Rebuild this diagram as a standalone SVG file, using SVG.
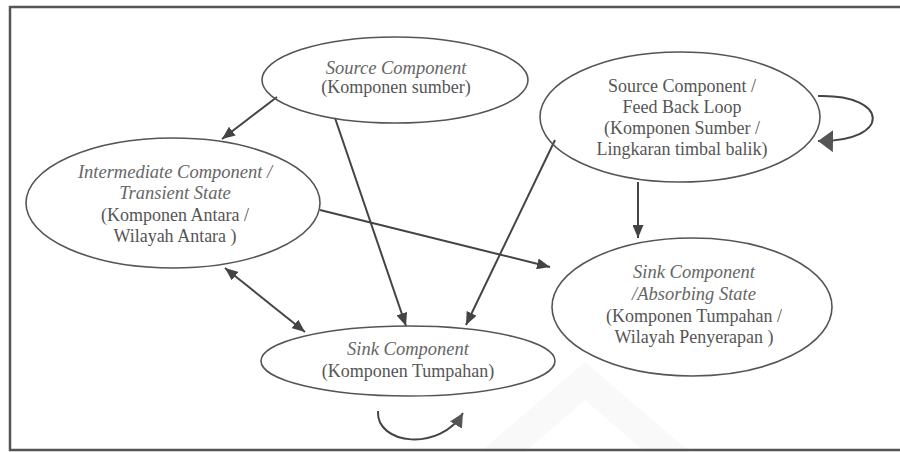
<svg xmlns="http://www.w3.org/2000/svg" width="900" height="452" viewBox="0 0 900 452">
<defs>
<style>
.node ellipse{fill:none;stroke:#555;stroke-width:1.6}
.lbl{font-size:18px;fill:#555;text-anchor:middle}
.it{font-style:italic;font-size:18.5px;fill:#666}
.edge{fill:none;stroke:#444;stroke-width:2}
</style>
<marker id="ah" viewBox="0 0 13 11" refX="13" refY="5.5" markerWidth="13" markerHeight="11" orient="auto-start-reverse" markerUnits="userSpaceOnUse"><path d="M0,0 L13,5.5 L0,11 z" fill="#444"/></marker>
<marker id="ahb" viewBox="0 0 15 22" refX="15" refY="11" markerWidth="15" markerHeight="22" orient="auto" markerUnits="userSpaceOnUse"><path d="M0,0 L15,11 L0,22 z" fill="#555"/></marker>
<marker id="ahm" viewBox="0 0 14 14" refX="14" refY="7" markerWidth="14" markerHeight="14" orient="auto" markerUnits="userSpaceOnUse"><path d="M0,0 L14,7 L0,14 z" fill="#555"/></marker>
</defs>
<rect width="900" height="452" fill="#fff"/>
<polygon points="480,452 585,362 690,452" fill="#f9f9f9"/>
<polygon points="525,452 585,400 645,452" fill="#fff"/>
<path d="M900,7 H10 V450 H900" fill="none" stroke="#555" stroke-width="2.5"/>
<g id="connectors">
<path class="edge" d="M277,97 L222,139" marker-end="url(#ah)"/>
<path class="edge" d="M335,118 L406,326" marker-end="url(#ah)"/>
<path class="edge" d="M555,140 L466,325" marker-end="url(#ah)"/>
<path class="edge" d="M638,182 L638,238" marker-end="url(#ah)"/>
<path class="edge" d="M320,210 L550,267" marker-end="url(#ah)"/>
<path class="edge" d="M225,268 L305,332" marker-start="url(#ah)" marker-end="url(#ah)"/>
<path class="edge" d="M818,96 C890,94 892,142 818,141" marker-end="url(#ahb)"/>
<path class="edge" d="M378,411 C376,445 440,452 463,413" marker-end="url(#ahm)"/>
</g>
<g font-family="'Liberation Serif', 'DejaVu Serif', serif">
<g id="source" class="node">
<ellipse cx="395" cy="80" rx="133" ry="43"/>
<text x="396" y="74" class="lbl it">Source Component</text>
<text x="396" y="93" class="lbl">(Komponen sumber)</text>
</g>
<g id="feedback" class="node">
<ellipse cx="680" cy="117" rx="140" ry="65"/>
<text x="682" y="92" class="lbl">Source Component /</text>
<text x="682" y="113" class="lbl">Feed Back Loop</text>
<text x="682" y="134" class="lbl">(Komponen Sumber /</text>
<text x="682" y="155" class="lbl">Lingkaran timbal balik)</text>
</g>
<g id="intermediate" class="node">
<ellipse cx="173" cy="203" rx="147" ry="65"/>
<text x="175" y="178" class="lbl it">Intermediate Component /</text>
<text x="175" y="199" class="lbl it">Transient State</text>
<text x="175" y="221" class="lbl">(Komponen Antara /</text>
<text x="175" y="242" class="lbl">Wilayah Antara )</text>
</g>
<g id="sink" class="node">
<ellipse cx="408" cy="361" rx="147" ry="35"/>
<text x="408" y="355" class="lbl it">Sink Component</text>
<text x="408" y="377" class="lbl">(Komponen Tumpahan)</text>
</g>
<g id="absorbing" class="node">
<ellipse cx="692" cy="307" rx="140" ry="69"/>
<text x="694" y="278" class="lbl it">Sink Component</text>
<text x="694" y="300" class="lbl it">/Absorbing State</text>
<text x="694" y="322" class="lbl">(Komponen Tumpahan /</text>
<text x="694" y="343" class="lbl">Wilayah Penyerapan )</text>
</g>
</g>
</svg>
